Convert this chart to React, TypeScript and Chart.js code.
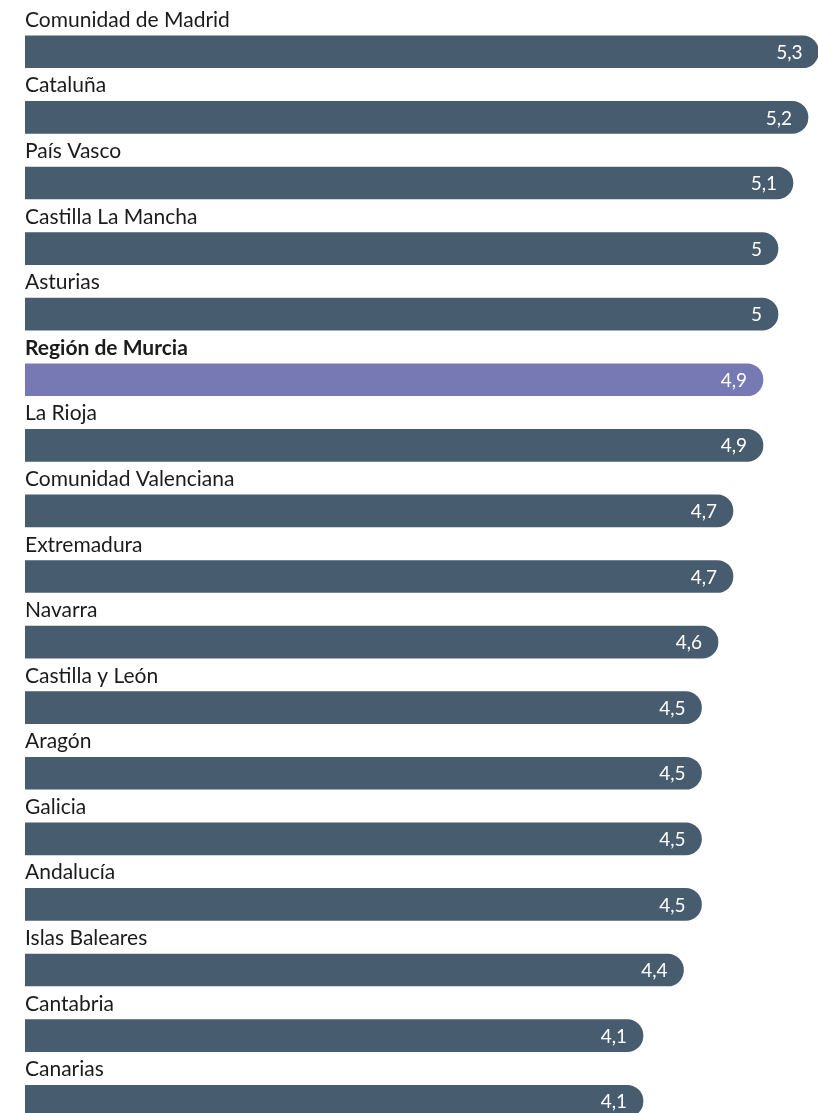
import React, { useEffect, useRef } from "react";
import { Chart, registerables } from "chart.js";

Chart.register(...registerables);

const regions: string[] = [
  "Comunidad de Madrid",
  "Cataluña",
  "País Vasco",
  "Castilla La Mancha",
  "Asturias",
  "Región de Murcia",
  "La Rioja",
  "Comunidad Valenciana",
  "Extremadura",
  "Navarra",
  "Castilla y León",
  "Aragón",
  "Galicia",
  "Andalucía",
  "Islas Baleares",
  "Cantabria",
  "Canarias",
];

const values: number[] = [5.27, 5.2, 5.1, 5, 5, 4.9, 4.9, 4.7, 4.7, 4.6, 4.49, 4.49, 4.49, 4.49, 4.37, 4.1, 4.1];

const highlighted: string = "Región de Murcia";

const BAR_COLOR = "#485c70";
const HIGHLIGHT_COLOR = "#7779b5";
const FONT = "Lato, 'Open Sans', sans-serif";

const fmt = (v: number) => {
  const r = Math.round(v * 10) / 10;
  return Number.isInteger(r) ? String(r) : r.toFixed(1).replace(".", ",");
};

const labelPlugin = {
  id: "rowLabels",
  afterDatasetsDraw(chart: any) {
    const ctx = chart.ctx;
    const meta = chart.getDatasetMeta(0);
    const left = chart.chartArea.left;
    ctx.save();
    meta.data.forEach((bar: any, i: number) => {
      const name = regions[i];
      const isHi = name === highlighted;
      const half = bar.height / 2;
      ctx.fillStyle = "#1b1b1b";
      ctx.textAlign = "left";
      ctx.textBaseline = "alphabetic";
      ctx.font = `${isHi ? "bold " : ""}21px ${FONT}`;
      ctx.fillText(name, left, bar.y - half - 9);
      ctx.fillStyle = "#ffffff";
      ctx.textAlign = "right";
      ctx.textBaseline = "middle";
      ctx.font = `19px ${FONT}`;
      ctx.fillText(fmt(values[i]), bar.x - 16, bar.y + 1);
    });
    ctx.restore();
  },
};

export default function App() {
  const ref = useRef<HTMLCanvasElement | null>(null);

  useEffect(() => {
    if (!ref.current) return;
    const chart = new Chart(ref.current, {
      type: "bar",
      data: {
        labels: regions,
        datasets: [
          {
            data: values,
            base: -0.02,
            backgroundColor: regions.map((r) => (r === highlighted ? HIGHLIGHT_COLOR : BAR_COLOR)),
            barThickness: 32,
            borderRadius: 16,
            borderSkipped: "start",
          },
        ],
      },
      options: {
        indexAxis: "y",
        responsive: false,
        animation: false,
        layout: { padding: { left: 25, right: 0, top: 19, bottom: 3 } },
        plugins: {
          legend: { display: false },
          tooltip: { enabled: false },
        },
        scales: {
          x: { display: false, min: -0.02, max: 5.2667 },
          y: { display: false },
        },
      },
      plugins: [labelPlugin],
    });
    return () => chart.destroy();
  }, []);

  return (
    <div style={{ position: "absolute", left: 0, top: 0, width: 818, height: 1113, overflow: "hidden", background: "#fff" }}>
      <canvas ref={ref} width={818} height={1137} style={{ display: "block" }} />
    </div>
  );
}
